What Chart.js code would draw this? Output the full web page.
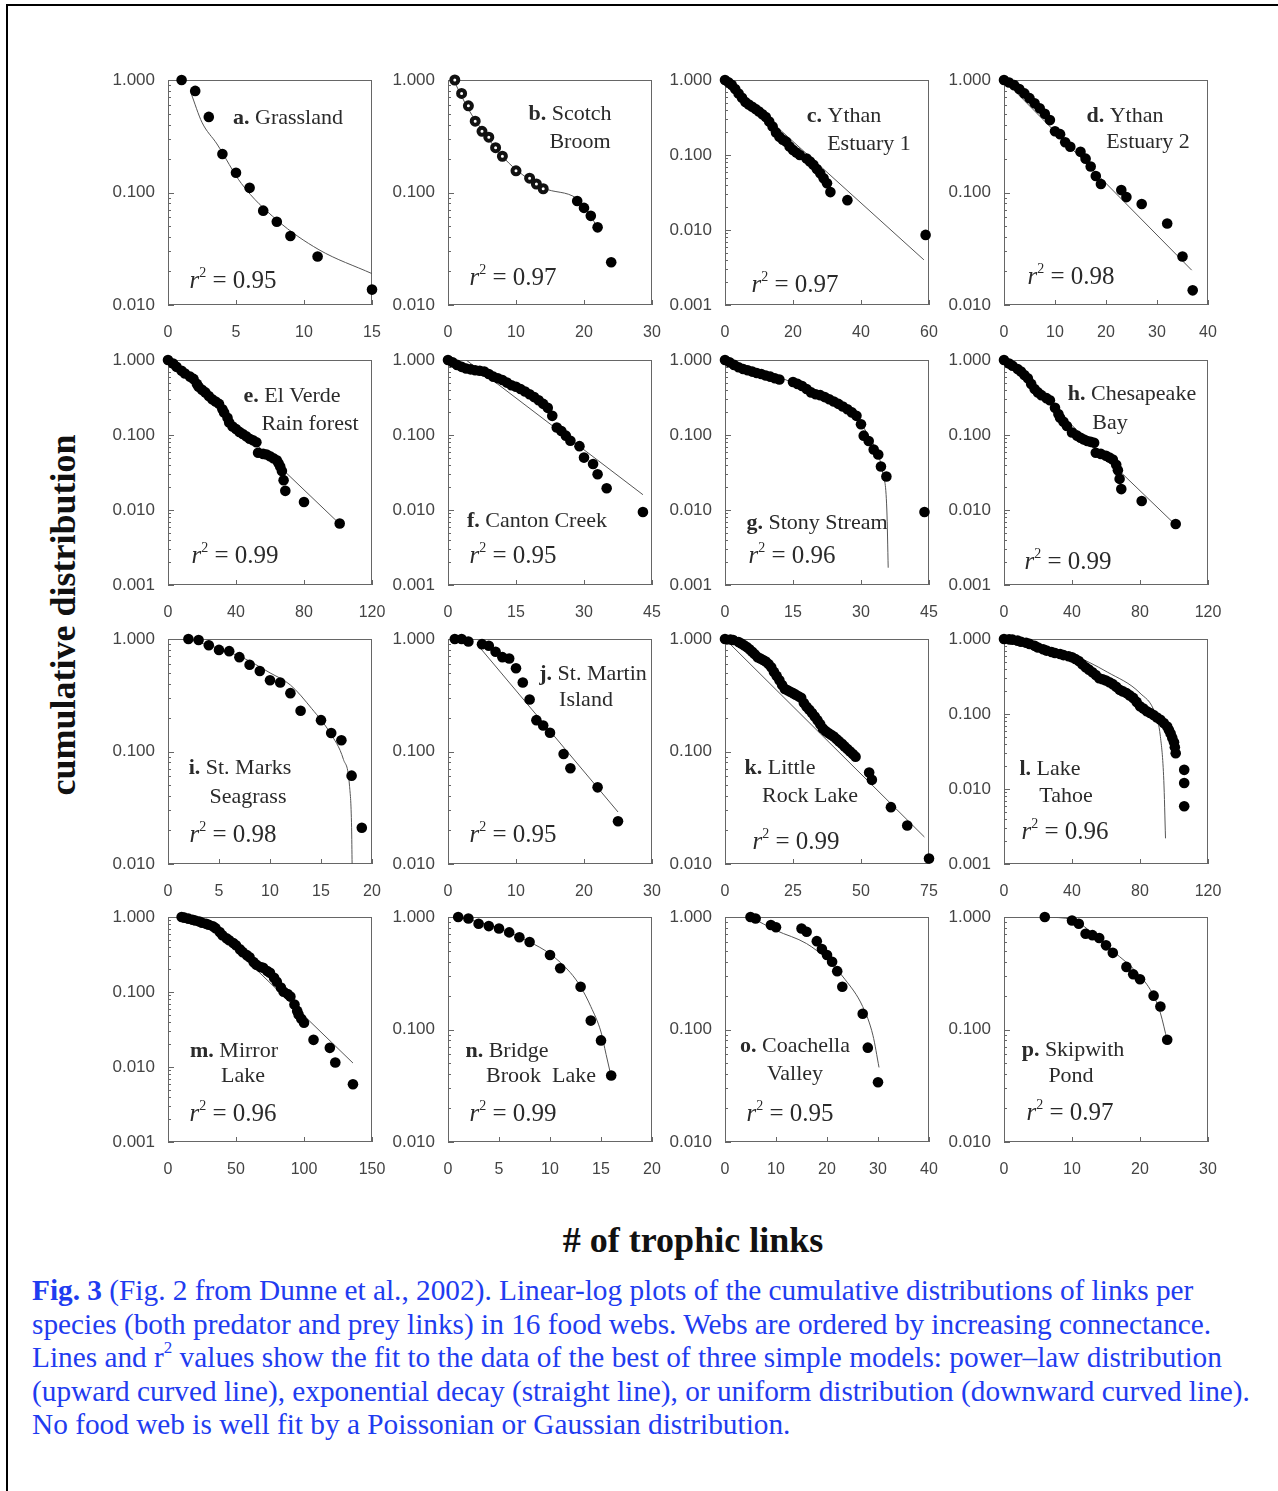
<!DOCTYPE html>
<html>
<head>
<meta charset="utf-8">
<script src="https://cdn.jsdelivr.net/npm/chart.js@4.4.1/dist/chart.umd.min.js"></script>
<style>
  body { margin: 0; background: #fff; width: 1278px; height: 1491px; position: relative; overflow: hidden; }
  #frame { position: absolute; left: 6px; top: 4px; width: 1300px; height: 1520px; border-left: 2px solid #000; border-top: 2px solid #000; }
  canvas { position: absolute; }
  #ytitle { position: absolute; left: 63px; top: 615px; transform: translate(-50%, -50%) rotate(-90deg);
    font: bold 36px "Liberation Serif", serif; color: #111; white-space: nowrap; }
  #xtitle { position: absolute; left: 693px; top: 1240px; transform: translate(-50%, -50%);
    font: bold 36px "Liberation Serif", serif; color: #111; white-space: nowrap; }
  #caption { position: absolute; left: 32px; top: 1274px; font: 29.3px "Liberation Serif", serif; line-height: 33.6px;
    color: #1f3cf0; white-space: nowrap; }
  #caption sup { font-size: 17px; line-height: 0; position: relative; top: -3px; }
</style>
</head>
<body>
<div id="frame"></div>
<div id="ytitle">cumulative distribution</div>
<div id="xtitle"># of trophic links</div>
<div id="caption"><b>Fig. 3</b> (Fig. 2 from Dunne et al., 2002). Linear-log plots of the cumulative distributions of links per<br>species (both predator and prey links) in 16 food webs. Webs are ordered by increasing connectance.<br>Lines and r<sup>2</sup> values show the fit to the data of the best of three simple models: power–law distribution<br>(upward curved line), exponential decay (straight line), or uniform distribution (downward curved line).<br>No food web is well fit by a Poissonian or Gaussian distribution.</div>

<script>
// 데이터 : [링크 수, 누적 분포]
const grassPts = [[1,1],[2,0.80],[3,0.47],[4,0.22],[5,0.15],[6,0.11],[7,0.069],[8,0.055],[9,0.041],[11,0.027],[15,0.0137]];
const grassFit = [[1.7,0.76],[2.5,0.42],[3.6,0.27],[5.4,0.12],[8,0.057],[11.1,0.031],[15,0.019]];

const scotchOpen = [[1,1],[2,0.76],[3,0.59],[4,0.43],[5,0.35],[6,0.31],[7,0.25],[8,0.21],[10,0.156],[12,0.134],[13,0.119],[14,0.108]];
const scotchPts = [[19,0.084],[20,0.073],[21,0.062],[22,0.049],[24,0.024]];
const scotchFit = [[1,0.95],[3,0.55],[5,0.36],[8,0.21],[10,0.16],[14,0.11],[19,0.088],[20,0.075],[21,0.062],[22,0.048]];

const ythan1Pts = [[0,1],[1,0.93],[2,0.86],[3,0.76],[4,0.66],[5,0.58],[6,0.51],[7,0.47],[8,0.44],[9,0.41],[10,0.38],[11,0.35],[12,0.32],[13,0.28],[14,0.24],[15,0.2],[16,0.175],[17,0.16],[18,0.15],[19,0.13],[20,0.117],[21,0.108],[22,0.10],[24,0.090],[25,0.082],[26,0.074],[27,0.065],[28,0.057],[29,0.049],[30,0.042],[31,0.032],[36,0.025],[59,0.0086]];
const ythan1Fit = [[0,1],[58.5,0.004]];

const ythan2Pts = [[0,1],[1,0.95],[2,0.90],[3,0.83],[4,0.76],[5,0.69],[6,0.62],[7,0.56],[8,0.50],[9,0.44],[10,0.35],[11,0.33],[12,0.28],[13,0.255],[15,0.23],[16,0.20],[17,0.17],[18,0.14],[19,0.119],[23,0.105],[24,0.091],[27,0.079],[32,0.053],[35,0.027],[37,0.0135]];
const ythan2Fit = [[0,1],[36.8,0.0204]];

const elVerdePts = [[0,1],[3,0.9],[5,0.81],[8,0.72],[10,0.66],[13,0.6],[15,0.56],[17,0.48],[18,0.44],[20,0.40],[22,0.37],[24,0.33],[26,0.30],[28,0.28],[30,0.26],[32,0.22],[33,0.20],[35,0.17],[36,0.147],[38,0.13],[40,0.12],[42,0.11],[44,0.103],[46,0.096],[48,0.089],[50,0.085],[52,0.080],[53,0.058],[56,0.056],[58,0.055],[60,0.052],[62,0.049],[64,0.046],[65,0.042],[66,0.038],[67,0.033],[68,0.025],[69,0.018],[80,0.0128],[101,0.0066]];
const elVerdeFit = [[0,1],[102,0.0062]];

const cantonPts = [[0,1],[1,0.93],[2,0.86],[3,0.81],[4,0.77],[5,0.75],[6,0.73],[7,0.72],[8,0.70],[9,0.65],[10,0.60],[11,0.57],[12,0.54],[13,0.50],[14,0.46],[15,0.44],[16,0.41],[17,0.38],[18,0.35],[19,0.32],[20,0.29],[21,0.26],[22,0.23],[23,0.18],[24,0.126],[25,0.113],[26,0.098],[27,0.084],[29,0.071],[30,0.050],[32,0.041],[33,0.030],[35,0.0195],[43,0.0094]];
const cantonFit = [[4,1],[43,0.016]];

const stonyPts = [[0,1],[1,0.93],[2,0.86],[3,0.80],[4,0.76],[5,0.73],[6,0.70],[7,0.67],[8,0.65],[9,0.62],[10,0.60],[11,0.57],[12,0.55],[15,0.51],[16,0.48],[17,0.45],[18,0.41],[19,0.37],[20,0.35],[21,0.34],[22,0.32],[23,0.30],[24,0.28],[25,0.26],[26,0.24],[27,0.22],[28,0.20],[29,0.18],[30,0.139],[30.6,0.098],[31.7,0.083],[32.8,0.064],[33.8,0.055],[34.4,0.038],[35.6,0.028],[44,0.0094]];
const stonyFit = [[0,1],[10,0.65],[20,0.37],[25,0.26],[29,0.17],[32,0.09],[34,0.05],[34.8,0.031],[35.7,0.01],[36,0.0017]];

const chesaPts = [[0,1],[3,0.9],[5,0.84],[8,0.76],[10,0.70],[12,0.63],[14,0.57],[16,0.48],[18,0.41],[20,0.37],[22,0.34],[25,0.31],[27,0.29],[30,0.23],[32,0.19],[33,0.17],[35,0.15],[37,0.132],[40,0.108],[43,0.098],[45,0.092],[47,0.087],[49,0.083],[51,0.081],[53,0.079],[54,0.058],[57,0.056],[60,0.053],[62,0.05],[64,0.047],[66,0.040],[67,0.034],[68,0.026],[69,0.019],[81,0.0132],[101,0.0065]];
const chesaFit = [[0,1],[101,0.0063]];

const marksPts = [[2,1],[3,0.98],[4,0.88],[5,0.80],[6,0.78],[7,0.69],[8,0.59],[9,0.52],[10,0.43],[11,0.41],[12,0.33],[13,0.23],[15,0.19],[16,0.146],[17,0.126],[18,0.061],[19,0.021]];
const marksFit = [[2,1],[7.2,0.69],[10,0.5],[12,0.39],[14.1,0.24],[15.9,0.146],[17.2,0.085],[17.8,0.049],[18,0.021],[18.05,0.01]];

const martinPts = [[1,1],[2,1],[3,0.95],[5,0.90],[6,0.87],[7,0.77],[8,0.69],[9,0.67],[10,0.55],[11,0.41],[12,0.29],[13,0.19],[14,0.17],[15,0.147],[17,0.095],[18,0.071],[22,0.048],[25,0.024]];
const martinFit = [[4.4,0.88],[25,0.029]];

const littlePts = [[0,1],[2,0.99],[3,0.98],[5,0.94],[6,0.91],[7,0.88],[8,0.85],[9,0.81],[10,0.77],[11,0.73],[12,0.69],[13,0.67],[14,0.65],[15,0.63],[16,0.60],[17,0.56],[18,0.51],[19,0.47],[20,0.43],[21,0.39],[22,0.36],[23,0.35],[24,0.34],[25,0.33],[26,0.32],[27,0.31],[28,0.30],[29,0.27],[30,0.25],[31,0.235],[32,0.22],[33,0.205],[34,0.19],[35,0.175],[36,0.16],[37,0.152],[38,0.146],[39,0.141],[40,0.136],[41,0.129],[42,0.123],[43,0.117],[44,0.111],[45,0.105],[46,0.1],[47,0.095],[48,0.090],[53,0.065],[54,0.056],[61,0.032],[67,0.022],[75,0.0112]];
const littleFit = [[0,1],[73.3,0.0174]];

const tahoePts = [[0,1],[3,0.99],[5,0.98],[8,0.95],[10,0.92],[13,0.89],[15,0.86],[18,0.81],[20,0.77],[23,0.73],[25,0.70],[28,0.67],[30,0.65],[33,0.63],[35,0.61],[38,0.59],[40,0.57],[42,0.54],[44,0.51],[46,0.46],[48,0.42],[50,0.39],[52,0.36],[54,0.33],[56,0.30],[58,0.29],[60,0.28],[62,0.265],[64,0.25],[66,0.23],[68,0.21],[70,0.20],[72,0.19],[74,0.177],[76,0.164],[78,0.145],[80,0.127],[82,0.118],[84,0.109],[86,0.103],[88,0.097],[90,0.09],[92,0.084],[94,0.076],[96,0.068],[97,0.061],[98,0.055],[99,0.048],[100,0.042],[100.5,0.036],[101,0.030],[106,0.018],[106,0.012],[106,0.0059]];
const tahoeFit = [[0,1],[20,0.85],[40,0.62],[61,0.36],[80,0.19],[89,0.10],[92,0.05],[94,0.013],[95,0.0022]];

const mirrorPts = [[10,1],[12,0.98],[15,0.95],[18,0.92],[20,0.90],[23,0.87],[25,0.84],[28,0.81],[30,0.79],[33,0.75],[35,0.71],[38,0.63],[40,0.57],[43,0.52],[45,0.49],[48,0.45],[50,0.42],[53,0.37],[55,0.34],[58,0.31],[60,0.29],[63,0.25],[65,0.23],[68,0.215],[70,0.21],[73,0.19],[75,0.18],[78,0.155],[80,0.137],[83,0.115],[85,0.101],[88,0.094],[90,0.087],[93,0.068],[95,0.056],[96,0.050],[98,0.044],[100,0.039],[107,0.023],[119,0.018],[123,0.0115],[136,0.0059]];
const mirrorFit = [[25,1],[136,0.0113]];

const bridgePts = [[1,1],[2,0.97],[3,0.87],[4,0.83],[5,0.79],[6,0.73],[7,0.66],[8,0.60],[10,0.46],[11,0.35],[13,0.24],[14,0.12],[15,0.080],[16,0.039]];
const bridgeFit = [[1,1],[5,0.80],[8,0.60],[10,0.47],[12,0.32],[13,0.24],[14,0.16],[15,0.095],[15.5,0.06],[16,0.038]];

const coachPts = [[5,1],[6,0.97],[9,0.85],[10,0.81],[15,0.79],[16,0.74],[18,0.61],[19,0.52],[20,0.46],[21,0.40],[22,0.33],[23,0.24],[27,0.138],[28,0.069],[30,0.034]];
const coachFit = [[5,1],[10,0.76],[16,0.58],[20,0.42],[23.5,0.28],[27,0.16],[29,0.089],[30.2,0.046]];

const skipPts = [[6,1],[10,0.93],[11,0.87],[12,0.71],[13,0.69],[14,0.65],[15,0.56],[16,0.48],[18,0.36],[19,0.31],[20,0.28],[22,0.20],[23,0.16],[24,0.081]];
const skipFit = [[6,1],[10,0.95],[13,0.72],[16,0.50],[20,0.30],[22,0.20],[23,0.14],[24,0.08]];

// 눈금
const ticks15 = [0, 5, 10, 15];
const ticks20 = [0, 5, 10, 15, 20];
const ticks30 = [0, 10, 20, 30];
const ticks40 = [0, 10, 20, 30, 40];
const ticks45 = [0, 15, 30, 45];
const ticks60 = [0, 20, 40, 60];
const ticks75 = [0, 25, 50, 75];
const ticks120 = [0, 40, 80, 120];
const ticks150 = [0, 50, 100, 150];

// 배치
const PLOT_W = 204, PLOT_H = 225;
const YW = 72, PT = 12, PR = 14, XH = 46;
const colLeft = [168, 448, 725, 1004];
const rowTop = [80, 360, 639, 917];

// 패널 목록 (제목, r², 위치는 페이지 좌표)
const panels = [
  { pts: grassPts, fit: grassFit, xt: ticks15, yMin: 0.01, r2: '0.95', rpos: [233, 281],
    title: [['a.', ' Grassland', 288, 118]] },
  { pts: scotchPts, open: scotchOpen, fit: scotchFit, xt: ticks30, yMin: 0.01, r2: '0.97', rpos: [513, 278],
    title: [['b.', ' Scotch', 570, 114], ['', 'Broom', 580, 142]] },
  { pts: ythan1Pts, fit: ythan1Fit, xt: ticks60, yMin: 0.001, r2: '0.97', rpos: [795, 285],
    title: [['c.', ' Ythan', 844, 116], ['', 'Estuary 1', 869, 144]] },
  { pts: ythan2Pts, fit: ythan2Fit, xt: ticks40, yMin: 0.01, r2: '0.98', rpos: [1071, 277],
    title: [['d.', ' Ythan', 1125, 116], ['', 'Estuary 2', 1148, 142]] },

  { pts: elVerdePts, fit: elVerdeFit, xt: ticks120, yMin: 0.001, r2: '0.99', rpos: [235, 556],
    title: [['e.', ' El Verde', 292, 396], ['', 'Rain forest', 310, 424]] },
  { pts: cantonPts, fit: cantonFit, xt: ticks45, yMin: 0.001, r2: '0.95', rpos: [513, 556],
    title: [['f.', ' Canton Creek', 537, 521]] },
  { pts: stonyPts, fit: stonyFit, xt: ticks45, yMin: 0.001, r2: '0.96', rpos: [792, 556],
    title: [['g.', ' Stony Stream', 817, 523]] },
  { pts: chesaPts, fit: chesaFit, xt: ticks120, yMin: 0.001, r2: '0.99', rpos: [1068, 562],
    title: [['h.', ' Chesapeake', 1132, 394], ['', 'Bay', 1110, 423]] },

  { pts: marksPts, fit: marksFit, xt: ticks20, yMin: 0.01, r2: '0.98', rpos: [233, 835],
    title: [['i.', ' St. Marks', 240, 768], ['', 'Seagrass', 248, 797]] },
  { pts: martinPts, fit: martinFit, xt: ticks30, yMin: 0.01, r2: '0.95', rpos: [513, 835],
    title: [['j.', ' St. Martin', 593, 674], ['', 'Island', 586, 700]] },
  { pts: littlePts, fit: littleFit, xt: ticks75, yMin: 0.01, r2: '0.99', rpos: [796, 842],
    title: [['k.', ' Little', 780, 768], ['', 'Rock Lake', 810, 796]] },
  { pts: tahoePts, fit: tahoeFit, xt: ticks120, yMin: 0.001, r2: '0.96', rpos: [1065, 832],
    title: [['l.', ' Lake', 1050, 769], ['', 'Tahoe', 1066, 796]] },

  { pts: mirrorPts, fit: mirrorFit, xt: ticks150, yMin: 0.001, r2: '0.96', rpos: [233, 1114],
    title: [['m.', ' Mirror', 234, 1051], ['', 'Lake', 243, 1076]] },
  { pts: bridgePts, fit: bridgeFit, xt: ticks20, yMin: 0.01, r2: '0.99', rpos: [513, 1114],
    title: [['n.', ' Bridge', 507, 1051], ['', 'Brook  Lake', 541, 1076]] },
  { pts: coachPts, fit: coachFit, xt: ticks40, yMin: 0.01, r2: '0.95', rpos: [790, 1114],
    title: [['o.', ' Coachella', 795, 1046], ['', 'Valley', 795, 1074]] },
  { pts: skipPts, fit: skipFit, xt: ticks30, yMin: 0.01, r2: '0.97', rpos: [1070, 1113],
    title: [['p.', ' Skipwith', 1073, 1050], ['', 'Pond', 1071, 1076]] },
];

const SERIF = '"Liberation Serif", serif';
const toXY = arr => arr.map(([x, y]) => ({ x, y }));

// 여러 글꼴 조각을 가운데 정렬로 그리기
function drawParts(ctx, parts, cx, cy) {
  let w = 0;
  parts.forEach(p => { ctx.font = p.font; p.w = ctx.measureText(p.text).width; w += p.w; });
  let x = cx - w / 2;
  parts.forEach(p => {
    ctx.font = p.font;
    ctx.fillText(p.text, x, cy + (p.dy || 0));
    x += p.w;
  });
}

// 테두리와 안쪽 눈금
const boxPlugin = {
  id: 'box',
  beforeDatasetsDraw(chart) {
    const { ctx, chartArea: a, scales: { x, y } } = chart;
    ctx.save();
    ctx.strokeStyle = '#666';
    ctx.lineWidth = 1;
    ctx.strokeRect(a.left + 0.5, a.top + 0.5, a.width - 1, a.height - 1);
    ctx.beginPath();
    for (let d = y.min; d < y.max * 0.999; d *= 10) {
      for (let m = 1; m < 10; m++) {
        const py = Math.round(y.getPixelForValue(d * m)) + 0.5;
        ctx.moveTo(a.left, py);
        ctx.lineTo(a.left + (m === 1 ? 6 : 3), py);
      }
    }
    x.ticks.forEach(t => {
      const px = Math.round(x.getPixelForValue(t.value)) + 0.5;
      ctx.moveTo(px, a.bottom);
      ctx.lineTo(px, a.bottom - 5);
    });
    ctx.stroke();
    ctx.restore();
  }
};

panels.forEach((p, i) => {
  const plotLeft = colLeft[i % 4], plotTop = rowTop[Math.floor(i / 4)];
  const cLeft = plotLeft - YW, cTop = plotTop - PT;
  const canvas = document.createElement('canvas');
  canvas.width = YW + PLOT_W + PR;
  canvas.height = PT + PLOT_H + XH;
  canvas.style.left = cLeft + 'px';
  canvas.style.top = cTop + 'px';
  document.body.appendChild(canvas);

  const labelPlugin = {
    id: 'labels',
    afterDraw(chart) {
      const ctx = chart.ctx;
      ctx.save();
      ctx.fillStyle = '#2a2a2a';
      ctx.textBaseline = 'middle';
      p.title.forEach(([b, r, x, y]) => {
        drawParts(ctx, [
          { text: b, font: 'bold 22px ' + SERIF },
          { text: r, font: '22px ' + SERIF }
        ], x - cLeft, y - cTop);
      });
      drawParts(ctx, [
        { text: 'r', font: 'italic 25px ' + SERIF },
        { text: '2', font: '14px ' + SERIF, dy: -8 },
        { text: ' = ' + p.r2, font: '25px ' + SERIF }
      ], p.rpos[0] - cLeft, p.rpos[1] - cTop);
      ctx.restore();
    }
  };

  const datasets = [
    { data: toXY(p.pts), pointRadius: 5.3, backgroundColor: '#000', borderColor: '#000', borderWidth: 0, clip: false, order: 0 },
    { data: toXY(p.fit), showLine: true, pointRadius: 0, borderColor: '#555', borderWidth: 1,
      cubicInterpolationMode: 'monotone', order: 2 }
  ];
  if (p.open) {
    datasets.push({ data: toXY(p.open), pointRadius: 3.5, backgroundColor: '#fff', borderColor: '#111', borderWidth: 4, clip: false, order: 1 });
  }

  new Chart(canvas, {
    type: 'scatter',
    data: { datasets },
    options: {
      responsive: false,
      animation: false,
      events: [],
      layout: { padding: { left: 0, top: PT, right: PR, bottom: 0 } },
      plugins: { legend: { display: false }, tooltip: { enabled: false } },
      scales: {
        x: {
          type: 'linear', min: 0, max: p.xt[p.xt.length - 1],
          afterBuildTicks: s => { s.ticks = p.xt.map(v => ({ value: v })); },
          afterFit: s => { s.height = XH; s.paddingLeft = 0; s.paddingRight = 0; },
          grid: { display: false, drawTicks: false },
          border: { display: false },
          ticks: { autoSkip: false, maxRotation: 0, padding: 18, color: '#444', font: { family: 'Liberation Sans', size: 16 } }
        },
        y: {
          type: 'logarithmic', min: p.yMin, max: 1,
          afterBuildTicks: s => {
            const t = [];
            for (let v = 1; v >= p.yMin * 0.999; v /= 10) t.push({ value: v });
            s.ticks = t;
          },
          afterFit: s => { s.width = YW; s.paddingTop = 0; s.paddingBottom = 0; },
          grid: { display: false, drawTicks: false },
          border: { display: false },
          ticks: { autoSkip: false, padding: 13, color: '#444', font: { family: 'Liberation Sans', size: 17 },
            callback: v => Number(v).toFixed(3) }
        }
      }
    },
    plugins: [boxPlugin, labelPlugin]
  });
});
</script>
</body>
</html>
